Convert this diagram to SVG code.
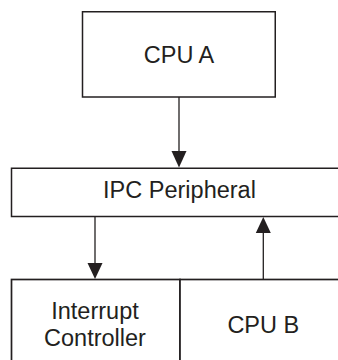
<svg xmlns="http://www.w3.org/2000/svg" width="338" height="360" viewBox="0 0 338 360">
<style>
.box{fill:#fff;stroke:#231f20;stroke-width:1.5}
.lbl{font-family:"Liberation Sans",Arial,sans-serif;font-size:23.5px;fill:#231f20;text-anchor:middle}
.con{stroke:#231f20;stroke-width:1.3;fill:none}
.head{fill:#231f20}
</style>
<rect width="338" height="360" fill="#fff"/>
<g id="cpu-a">
<rect class="box" x="82.5" y="11.75" width="192.75" height="85.25"/>
<text class="lbl" x="179" y="63.3">CPU A</text>
</g>
<g id="ipc">
<rect class="box" x="11.5" y="168.25" width="340" height="48.25"/>
<text class="lbl" x="179.5" y="198.3">IPC Peripheral</text>
</g>
<g id="interrupt-controller">
<rect class="box" x="11.5" y="279.5" width="168.5" height="100" style="stroke-width:1.7"/>
<text class="lbl" x="95"><tspan x="95" y="319.3">Interrupt</tspan><tspan x="95" y="346">Controller</tspan></text>
</g>
<g id="cpu-b">
<rect class="box" x="180" y="279.5" width="180" height="100" style="stroke-width:1.7"/>
<text class="lbl" x="263.3" y="332.7">CPU B</text>
</g>
<g id="connectors">
<line class="con" x1="179" y1="97" x2="179" y2="152"/>
<polygon class="head" points="171.5,151 186.5,151 179,167.5"/>
<line class="con" x1="95" y1="216.5" x2="95" y2="264"/>
<polygon class="head" points="87.5,263 102.5,263 95,279"/>
<line class="con" x1="263.3" y1="279.5" x2="263.3" y2="232"/>
<polygon class="head" points="255.8,233 270.8,233 263.3,217"/>
</g>
</svg>
